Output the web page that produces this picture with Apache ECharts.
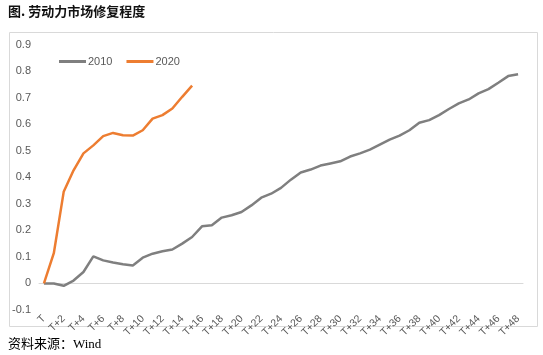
<!DOCTYPE html>
<html><head><meta charset="utf-8">
<script src="https://cdn.jsdelivr.net/npm/echarts@6/dist/echarts.min.js"></script>
<style>html,body{margin:0;padding:0;background:#fff}#c{width:543px;height:355px}</style>
</head><body><div id="c"></div>
<script>
const titleText = '图. 劳动力市场修复程度';
const sourceText = '资料来源：Wind';
const categories = [];
for (let i = 0; i <= 48; i++) categories.push(i === 0 ? 'T' : 'T+' + i);
const seriesNames = ['2010', '2020'];
const values2010 = [0, 0, -0.009, 0.011, 0.043, 0.102, 0.087, 0.079, 0.072, 0.068,
  0.097, 0.112, 0.121, 0.128, 0.150, 0.175, 0.215, 0.219, 0.248, 0.257,
  0.269, 0.294, 0.323, 0.338, 0.360, 0.391, 0.418, 0.429, 0.444, 0.452,
  0.460, 0.478, 0.490, 0.504, 0.523, 0.542, 0.557, 0.577, 0.605, 0.615,
  0.634, 0.657, 0.678, 0.693, 0.716, 0.732, 0.756, 0.781, 0.788];
const values2020 = [0, 0.114, 0.345, 0.426, 0.490, 0.520, 0.555, 0.567, 0.558, 0.557,
  0.577, 0.621, 0.634, 0.659, 0.703, 0.745];
const yMin = -0.1, yMax = 0.9, yStep = 0.1;

const chart = echarts.init(document.getElementById('c'), null, {renderer: 'canvas'});
chart.setOption({
  animation: false,
  graphic: [
    {type: 'rect', left: 7, top: 30, shape: {width: 528, height: 294},
     style: {fill: 'none', stroke: '#d9d9d9', lineWidth: 1}, z: -1},
    {type: 'text', left: 8, top: 5,
     style: {text: titleText, font: 'bold 13px "Noto Sans CJK SC"', fill: '#111'}},
    {type: 'text', left: 8, top: 338,
     style: {text: sourceText, font: '13px "Liberation Serif","Noto Sans CJK SC"', fill: '#000'}}
  ],
  legend: {
    top: 51, left: 54, itemWidth: 27, itemHeight: 3, itemGap: 14,
    icon: 'rect',
    textStyle: {color: '#595959', fontSize: 11, fontFamily: 'Liberation Sans', padding: [0, 0, 0, -3]},
    data: seriesNames
  },
  grid: {left: 39, right: 20, top: 44.5, bottom: 45},
  xAxis: {
    type: 'category', data: categories, boundaryGap: true,
    axisLine: {onZero: true, lineStyle: {color: '#d9d9d9', width: 1}},
    axisTick: {show: false},
    axisLabel: {interval: 1, rotate: 45, color: '#595959', fontSize: 10.5,
      fontFamily: 'Liberation Sans', margin: 7}
  },
  yAxis: {
    type: 'value', min: yMin, max: yMax, interval: yStep,
    splitLine: {show: false}, axisLine: {show: false}, axisTick: {show: false},
    axisLabel: {color: '#595959', fontSize: 11, fontFamily: 'Liberation Sans', margin: 8,
      formatter: v => (Math.round(v * 10) / 10).toString()}
  },
  series: [
    {name: '2010', type: 'line', data: values2010, symbol: 'none',
     lineStyle: {color: '#7f7f7f', width: 2.5}, itemStyle: {color: '#7f7f7f'}},
    {name: '2020', type: 'line', data: values2020, symbol: 'none',
     lineStyle: {color: '#ed7d31', width: 2.5}, itemStyle: {color: '#ed7d31'}}
  ]
});
</script></body></html>
